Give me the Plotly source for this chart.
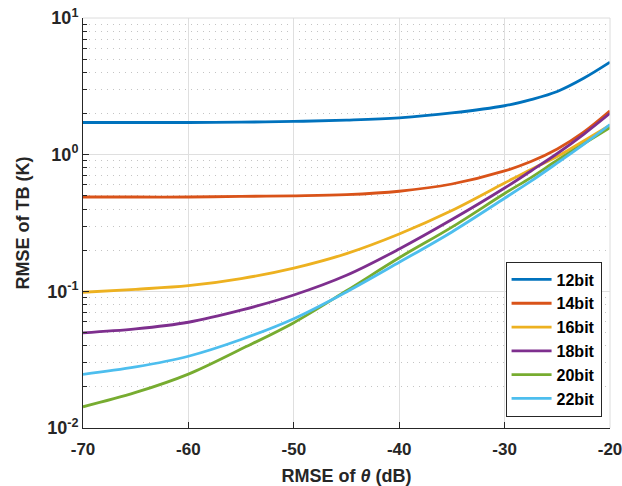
import plotly.graph_objects as go

x_db = [-70, -65, -60, -55, -50, -45, -40, -35, -30, -27.5, -25, -22.5, -20]

rmse_12bit = [1.72, 1.72, 1.72, 1.73, 1.75, 1.79, 1.86, 2.02, 2.28, 2.53, 2.90, 3.62, 4.75]
rmse_14bit = [0.49, 0.49, 0.49, 0.495, 0.50, 0.51, 0.54, 0.61, 0.76, 0.89, 1.10, 1.46, 2.09]
rmse_16bit = [0.0985, 0.1035, 0.110, 0.124, 0.148, 0.189, 0.263, 0.39, 0.62, 0.78, 0.97, 1.26, 1.64]
rmse_18bit = [0.0497, 0.0531, 0.0594, 0.0728, 0.094, 0.131, 0.204, 0.335, 0.57, 0.76, 1.02, 1.41, 2.01]
rmse_20bit = [0.0143, 0.0182, 0.0248, 0.0378, 0.059, 0.101, 0.176, 0.295, 0.52, 0.68, 0.91, 1.20, 1.58]
rmse_22bit = [0.0247, 0.028, 0.0335, 0.0444, 0.063, 0.099, 0.163, 0.272, 0.48, 0.64, 0.87, 1.19, 1.66]

series_names = ["12bit", "14bit", "16bit", "18bit", "20bit", "22bit"]
series_vals = [rmse_12bit, rmse_14bit, rmse_16bit, rmse_18bit, rmse_20bit, rmse_22bit]
colors = ["#0072BD", "#D95319", "#EDB120", "#7E2F8E", "#77AC30", "#4DBEEE"]

x_ticks = [-70, -60, -50, -40, -30, -20]
y_tickvals = [0.01, 0.1, 1, 10]
y_ticktext = ["10<sup>-2</sup>", "10<sup>-1</sup>", "10<sup>0</sup>", "10<sup>1</sup>"]
y_minor = [m * d for d in [0.01, 0.1, 1] for m in range(2, 10)]

FONT = "Liberation Sans, Arial, sans-serif"

fig = go.Figure()
for name, vals, c in zip(series_names, series_vals, colors):
    fig.add_trace(go.Scatter(
        x=x_db, y=vals, mode="lines", name=name,
        line=dict(color=c, width=2.8, shape="spline", smoothing=1.0),
    ))

# light box edges at top and right (as in the reference)
fig.add_shape(type="line", xref="paper", yref="paper", x0=0, x1=1, y0=1, y1=1,
              line=dict(color="#dcdcdc", width=1))
fig.add_shape(type="line", xref="paper", yref="paper", x0=1, x1=1, y0=0, y1=1,
              line=dict(color="#dcdcdc", width=1))

fig.update_layout(
    width=622, height=486,
    margin=dict(l=83, r=11.5, t=17.5, b=58, autoexpand=False),
    paper_bgcolor="white", plot_bgcolor="white",
    font=dict(family=FONT, color="#262626", size=17),
    showlegend=True,
    legend=dict(
        x=0.984, xanchor="right", y=0.406, yanchor="top",
        bgcolor="white", bordercolor="#262626", borderwidth=1,
        font=dict(family=FONT, size=16, color="#000000", weight="bold"),
        itemwidth=40, tracegroupgap=0,
    ),
)

fig.update_xaxes(
    range=[-70, -20], tickvals=x_ticks, ticktext=[str(v) for v in x_ticks],
    showline=True, linecolor="#262626", linewidth=1,
    ticks="inside", ticklen=6, tickcolor="#262626",
    showgrid=True, gridcolor="#dfdfdf", gridwidth=1,
    zeroline=False, automargin=False,
    ticklabeloverflow="allow",
    tickfont=dict(family=FONT, size=17, color="#262626", weight="bold"),
    ticklabelstandoff=6,
    title=dict(text="RMSE of <i>θ</i> (dB)", standoff=10,
               font=dict(family=FONT, size=18, color="#262626", weight="bold")),
)

fig.update_yaxes(
    type="log", range=[-2, 1],
    tickvals=y_tickvals, ticktext=y_ticktext,
    showline=True, linecolor="#262626", linewidth=1,
    ticks="inside", ticklen=6, tickcolor="#262626",
    showgrid=True, gridcolor="#dfdfdf", gridwidth=1,
    zeroline=False, automargin=False,
    tickfont=dict(family=FONT, size=18, color="#262626", weight="bold"),
    minor=dict(tickvals=y_minor, ticks="inside", ticklen=4, tickcolor="#262626",
               showgrid=True, gridcolor="#c4c4c4", griddash="1px,5px", gridwidth=1),
    title=dict(text="RMSE of TB (K)", standoff=12,
               font=dict(family=FONT, size=18, color="#262626", weight="bold")),
)

fig.write_html("out.html", config={"displayModeBar": False},
               post_script="document.body.style.margin='0';")
